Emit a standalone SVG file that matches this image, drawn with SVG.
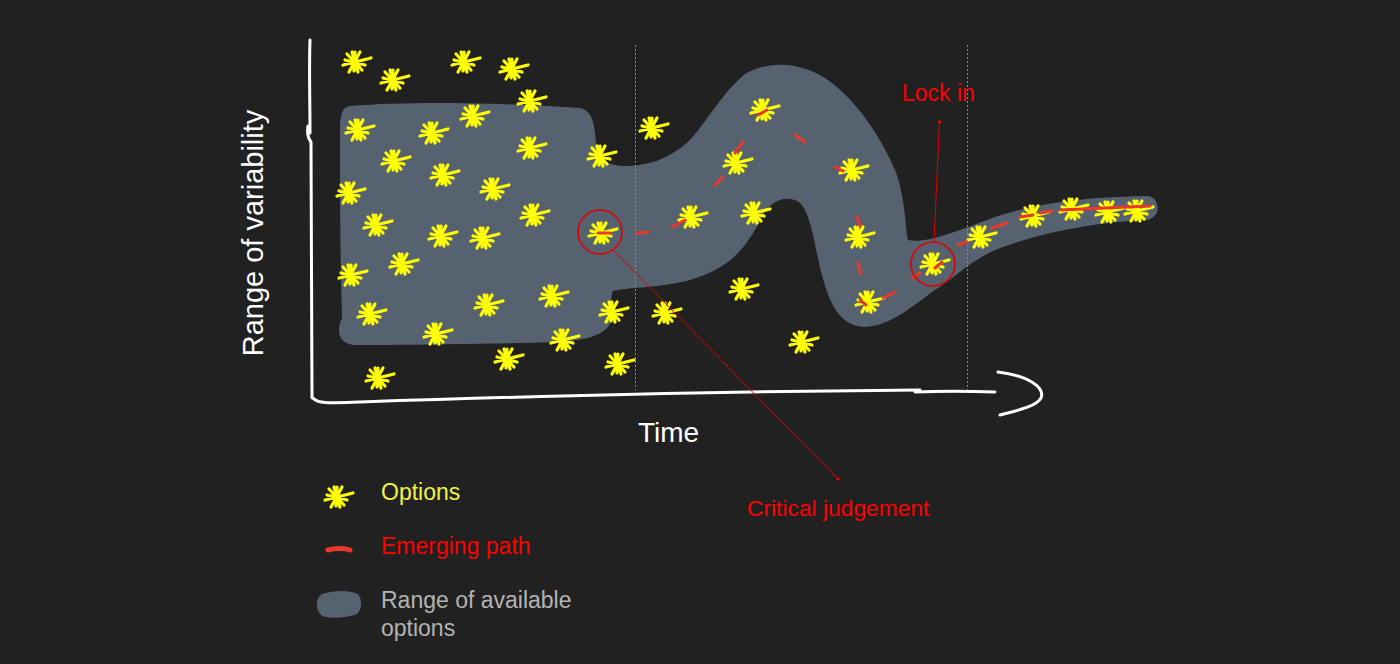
<svg xmlns="http://www.w3.org/2000/svg" width="1400" height="664" viewBox="0 0 1400 664">
<defs>
<style>
.star{stroke:#ffff00;stroke-width:3.2;stroke-linecap:round;stroke-linejoin:round;fill:none}
.dash{stroke:#e8392a;stroke-width:3;stroke-linecap:round;fill:none}
.axis{stroke:#ffffff;stroke-width:3;stroke-linecap:round;stroke-linejoin:round;fill:none}
.grid{stroke:#8a8a8a;stroke-width:1;stroke-dasharray:2 2;fill:none}
.lead{stroke:#e00000;stroke-width:1;fill:none}
.ring{stroke:#e00000;stroke-width:1.6;fill:none}
.lbl{font-family:"Liberation Sans",Arial,sans-serif}
</style>
<g id="star">
<path class="star" d="M-12,3 L16,-4 M-3,-10 L3,10 M-8,-8 L7,8 M5,-10 L-6,10 M-10,-2 L10,3 M0,-10 L-1,9"/>
<circle r="3.5" fill="#ffff00"/>
</g>
</defs>
<rect width="1400" height="664" fill="#212121"/>
<g id="range-area">
<path fill="#566270" d="M350,106 C420,100 520,104 580,108 C597,112 594,135 597,148 C600,162 612,167 630,166 C650,165 670,158 688,142 C705,125 720,95 745,74 C770,60 800,62 825,78 C855,98 880,135 895,170 C905,195 905,225 908,240 C925,244 955,232 995,217 C1040,202 1090,197 1147,196 C1160,196 1163,219 1145,220 C1100,222 1050,230 1000,248 C970,260 955,278 935,290 C910,308 890,326 865,327 C840,326 830,305 822,275 C815,250 812,215 800,203 C788,194 770,200 762,217 C745,250 730,268 690,280 C660,288 630,287 613,291 C608,300 618,320 605,330 C590,342 560,342 520,343 C460,344 400,345 355,345 C338,344 336,330 342,318 C340,250 340,180 340,130 C340,115 342,107 350,106 Z"/>
</g>
<g id="gridlines">
<line class="grid" x1="635.5" y1="45" x2="635.5" y2="390"/>
<line class="grid" x1="967.5" y1="45" x2="967.5" y2="390"/>
</g>
<g id="axes">
<path class="axis" d="M310,40 C309,70 310,100 310,133"/>
<path class="axis" d="M308,126 C307,132 308,138 311,142 C311,220 312,320 312,398"/>
<path class="axis" d="M313,398 C318,404 330,403 360,402 C480,398 620,394 750,392 C820,391 880,390 920,390"/>
<path class="axis" d="M915,392 C940,391 965,391 995,392"/>
<path class="axis" d="M998,372 C1030,376 1045,388 1041,398 C1036,407 1015,411 1000,415"/>
</g>
<g id="options">
<use href="#star" x="355" y="62"/><use href="#star" x="393" y="80"/><use href="#star" x="464" y="62"/><use href="#star" x="512" y="69"/><use href="#star" x="530" y="101"/>
<use href="#star" x="358" y="130"/><use href="#star" x="432" y="133"/><use href="#star" x="473" y="116"/><use href="#star" x="530" y="148"/><use href="#star" x="394" y="161"/>
<use href="#star" x="443" y="175"/><use href="#star" x="493" y="189"/><use href="#star" x="349" y="193"/><use href="#star" x="600" y="156"/><use href="#star" x="376" y="225"/>
<use href="#star" x="441" y="236"/><use href="#star" x="483" y="238"/><use href="#star" x="533" y="215"/><use href="#star" x="601" y="233"/><use href="#star" x="351" y="275"/>
<use href="#star" x="402" y="264"/><use href="#star" x="370" y="314"/><use href="#star" x="487" y="305"/><use href="#star" x="552" y="296"/><use href="#star" x="436" y="334"/>
<use href="#star" x="563" y="340"/><use href="#star" x="612" y="312"/><use href="#star" x="507" y="359"/><use href="#star" x="618" y="364"/><use href="#star" x="378" y="378"/>
<use href="#star" x="652" y="128"/><use href="#star" x="763" y="110"/><use href="#star" x="736" y="163"/><use href="#star" x="852" y="170"/><use href="#star" x="691" y="217"/>
<use href="#star" x="754" y="213"/><use href="#star" x="858" y="237"/><use href="#star" x="665" y="313"/><use href="#star" x="742" y="289"/><use href="#star" x="802" y="342"/>
<use href="#star" x="868" y="302"/><use href="#star" x="933" y="264"/><use href="#star" x="980" y="237"/><use href="#star" x="1033" y="216"/><use href="#star" x="1072" y="209"/>
<use href="#star" x="1108" y="212"/><use href="#star" x="1137" y="211"/>
</g>
<g id="emerging-path">
<path class="dash" d="M598,233 L610,233 M637,233 L648,232 M672,227 L685,220 M715,185 L723,177 M735,153 L743,142 M758,115 L767,110 M795,135 L805,142 M835,167 L843,171 M857,217 L860,226 M858,263 L861,274 M860,300 L866,305 M883,298 L895,292 M912,278 L920,273 M935,268 L942,262 M958,245 L967,242 M992,228 L1007,223 M1020,217 L1033,215 M1040,213 L1052,211 M1060,210 L1150,206"/>
</g>
<g id="critical-judgement">
<circle class="ring" cx="600" cy="232" r="22"/>
<line class="lead" x1="613" y1="250" x2="838" y2="479"/>
<circle cx="838" cy="479" r="1.8" fill="#e00000"/>
<text class="lbl" x="747" y="516" font-size="22.8" fill="#ff0000">Critical judgement</text>
</g>
<g id="lock-in">
<circle class="ring" cx="933" cy="264" r="22"/>
<line class="lead" x1="939.5" y1="122" x2="934" y2="242"/>
<circle cx="939.5" cy="122" r="1.8" fill="#e00000"/>
<text class="lbl" x="902" y="101" font-size="23" fill="#ff0000">Lock in</text>
</g>
<g id="axis-labels">
<text class="lbl" x="638" y="442" font-size="28" fill="#ffffff">Time</text>
<text class="lbl" transform="translate(263,233) rotate(-90)" text-anchor="middle" font-size="29" fill="#ffffff">Range of variability</text>
</g>
<g id="legend">
<use href="#star" x="337" y="497"/>
<text class="lbl" x="381" y="500" font-size="23" fill="#f2f24a">Options</text>
<path d="M328,550 C335,548 345,548 350,550" stroke="#e8392a" stroke-width="5" stroke-linecap="round" fill="none"/>
<text class="lbl" x="381" y="554" font-size="23" fill="#ff0000">Emerging path</text>
<path d="M322,594 C335,590 350,590 358,594 C363,600 362,612 355,615 C342,618 330,619 322,616 C315,610 315,598 322,594 Z" fill="#566270"/>
<text class="lbl" x="381" y="608" font-size="23" fill="#b3b3b3">Range of available</text>
<text class="lbl" x="381" y="636" font-size="23" fill="#b3b3b3">options</text>
</g>
</svg>
